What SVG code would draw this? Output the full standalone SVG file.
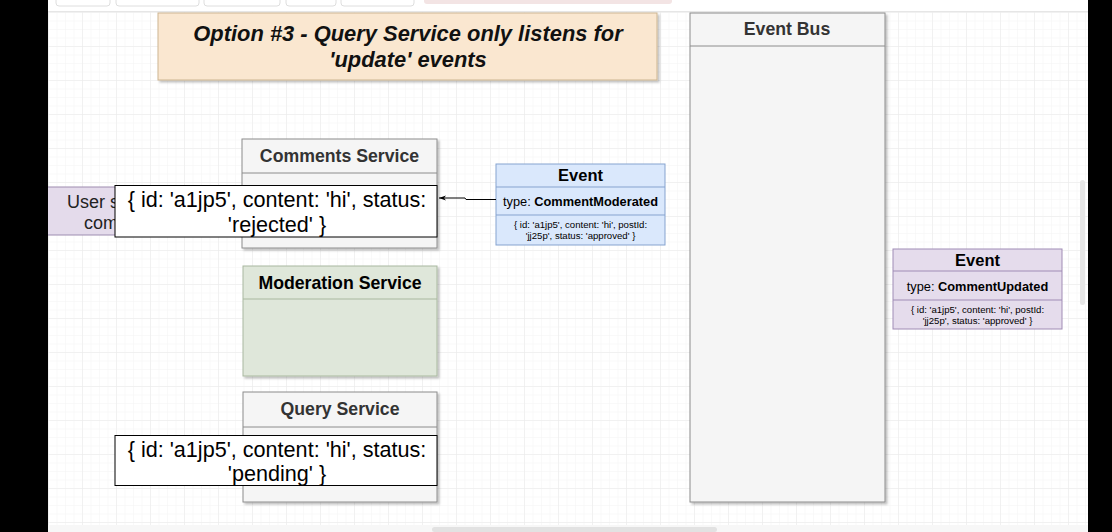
<svg xmlns="http://www.w3.org/2000/svg" width="1112" height="532" viewBox="0 0 1112 532">
<defs>
<pattern id="gridMinor" width="8.5" height="8.5" patternUnits="userSpaceOnUse" x="48" y="12">
<path d="M8.5 0 L0 0 0 8.5" fill="none" stroke="#f4f4f4" stroke-width="1"/>
</pattern>
<pattern id="gridMajor" width="34" height="34" patternUnits="userSpaceOnUse" x="48" y="12">
<path d="M34 0 L0 0 0 34" fill="none" stroke="#e9e9e9" stroke-width="1"/>
</pattern>
<filter id="sh" x="-10%" y="-10%" width="130%" height="130%">
<feDropShadow dx="2" dy="2" stdDeviation="1.2" flood-color="#000" flood-opacity="0.25"/>
</filter>
<marker id="arr" markerWidth="8" markerHeight="8" refX="7" refY="4" orient="auto" markerUnits="userSpaceOnUse">
<path d="M0 1.5 L7 4 L0 6.5 L2 4 Z" fill="#000"/>
</marker>
</defs>
<style>
.svc{fill:#f5f5f5;stroke:#8c8c8c;stroke-width:1;filter:url(#sh)}
.hdr{font-family:"Liberation Sans",Arial,sans-serif;font-weight:bold;font-size:17.7px;text-anchor:middle;fill:#333}
.json{fill:#fff;stroke:#000;stroke-width:1}
.jt{font-family:"Liberation Sans",Arial,sans-serif;font-size:21.6px;text-anchor:middle;fill:#000}
.evh{font-family:"Liberation Sans",Arial,sans-serif;font-weight:bold;font-size:16.5px;text-anchor:middle;fill:#000}
.evt{font-family:"Liberation Sans",Arial,sans-serif;font-size:12.8px;text-anchor:middle;fill:#000}
.evs{font-family:"Liberation Sans",Arial,sans-serif;font-size:9.6px;text-anchor:middle;fill:#000}
</style>
<rect x="0" y="0" width="1112" height="532" fill="#fff"/>
<rect x="48" y="12" width="1040" height="513" fill="url(#gridMinor)"/>
<rect x="48" y="12" width="1040" height="513" fill="url(#gridMajor)"/>
<g fill="none" stroke="#dedede">
<rect x="56" y="-4" width="54" height="10" rx="3"/>
<rect x="116" y="-4" width="83" height="10" rx="3"/>
<rect x="204" y="-4" width="76" height="10" rx="3"/>
<rect x="286" y="-4" width="50" height="10" rx="3"/>
<rect x="341" y="-4" width="73" height="10" rx="3"/>
</g>
<rect x="424" y="-4" width="248" height="8" rx="3" fill="#f3e4e4"/>
<line x1="48" y1="11.5" x2="1088" y2="11.5" stroke="#e6e6e6"/>
<rect x="48" y="525" width="1040" height="7" fill="#f7f7f7"/>
<rect x="432" y="527" width="285" height="5" rx="2.5" fill="#e2e2e2"/>
<rect x="1080" y="180" width="5" height="125" rx="2.5" fill="#e6e6e6"/>

<g id="title">
<rect x="158" y="13" width="499" height="67" fill="#fae7d0" stroke="#cdb591" filter="url(#sh)"/>
<text x="408" y="41" font-family="'Liberation Sans',Arial,sans-serif" font-weight="bold" font-style="italic" font-size="21.9" text-anchor="middle" fill="#111">Option #3 - Query Service only listens for</text>
<text x="408" y="67" font-family="'Liberation Sans',Arial,sans-serif" font-weight="bold" font-style="italic" font-size="21.9" text-anchor="middle" fill="#111">'update' events</text>
</g>

<g id="event-bus">
<rect class="svc" x="690" y="13" width="195" height="489"/>
<line x1="690" y1="46" x2="885" y2="46" stroke="#8c8c8c"/>
<text class="hdr" x="787" y="35">Event Bus</text>
</g>

<g id="user-submits">
<rect x="40" y="187" width="80" height="48" fill="#e4dbeb" stroke="#9d8cb0"/>
<text x="67" y="208" font-family="'Liberation Sans',Arial,sans-serif" font-size="18" fill="#222">User s</text>
<text x="84" y="229" font-family="'Liberation Sans',Arial,sans-serif" font-size="18" fill="#222">com</text>
</g>

<g id="comments-service">
<rect class="svc" x="242" y="139" width="195" height="109"/>
<line x1="242" y1="173" x2="437" y2="173" stroke="#8c8c8c"/>
<text class="hdr" x="339.5" y="162">Comments Service</text>
<rect class="json" x="115" y="185.5" width="322" height="51.5"/>
<text class="jt" x="277" y="207">{ id: 'a1jp5', content: 'hi', status:</text>
<text class="jt" x="277" y="232">'rejected' }</text>
</g>

<g id="moderation-service">
<rect x="243" y="266" width="194" height="110" fill="#dfe7da" stroke="#a9b89f" filter="url(#sh)"/>
<line x1="243" y1="299" x2="437" y2="299" stroke="#a9b89f"/>
<text class="hdr" x="340" y="289" style="fill:#000">Moderation Service</text>
</g>

<g id="query-service">
<rect class="svc" x="243" y="392" width="194" height="110"/>
<line x1="243" y1="427" x2="437" y2="427" stroke="#8c8c8c"/>
<text class="hdr" x="340" y="415">Query Service</text>
<rect class="json" x="115" y="435.5" width="322" height="50"/>
<text class="jt" x="277" y="457">{ id: 'a1jp5', content: 'hi', status:</text>
<text class="jt" x="277" y="481">'pending' }</text>
</g>

<g id="event-moderated">
<rect x="496" y="164" width="169" height="81" fill="#dae8fc" stroke="#86a3cf"/>
<line x1="496" y1="187" x2="665" y2="187" stroke="#86a3cf"/>
<line x1="496" y1="215" x2="665" y2="215" stroke="#86a3cf"/>
<text class="evh" x="580.5" y="181">Event</text>
<text class="evt" x="580.5" y="206">type: <tspan font-weight="bold">CommentModerated</tspan></text>
<text class="evs" x="580.5" y="228">{ id: 'a1jp5', content: 'hi', postId:</text>
<text class="evs" x="580.5" y="239">'jj25p', status: 'approved' }</text>
</g>

<g id="event-updated">
<rect x="893" y="249" width="169" height="80" fill="#e5dcec" stroke="#a08cb5"/>
<line x1="893" y1="271" x2="1062" y2="271" stroke="#a08cb5"/>
<line x1="893" y1="300" x2="1062" y2="300" stroke="#a08cb5"/>
<text class="evh" x="977.5" y="266">Event</text>
<text class="evt" x="977.5" y="291">type: <tspan font-weight="bold">CommentUpdated</tspan></text>
<text class="evs" x="977.5" y="313">{ id: 'a1jp5', content: 'hi', postId:</text>
<text class="evs" x="977.5" y="324">'jj25p', status: 'approved' }</text>
</g>

<g id="connectors">
<polyline points="496,199.5 466,199.5 465,198 439,198" fill="none" stroke="#000" stroke-width="1" marker-end="url(#arr)"/>
</g>

<rect x="0" y="0" width="48" height="532" fill="#000"/>
<rect x="1088" y="0" width="24" height="532" fill="#000"/>
</svg>
